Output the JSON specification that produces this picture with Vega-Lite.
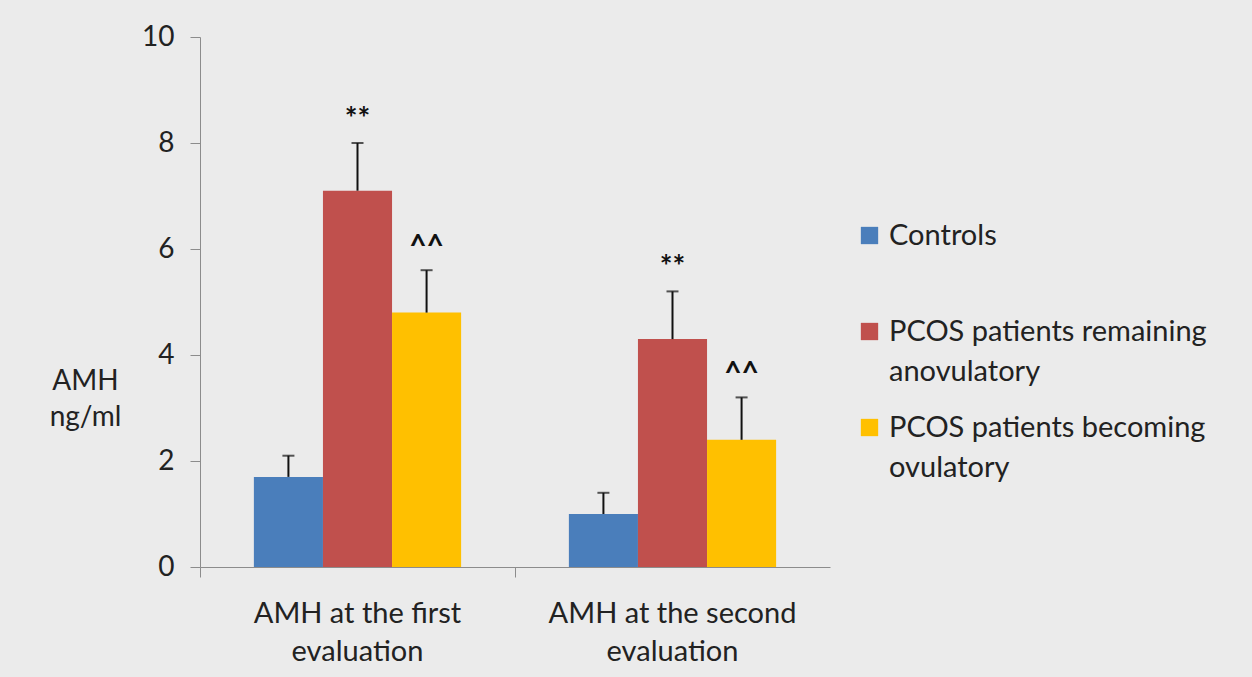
{
  "$schema": "https://vega.github.io/schema/vega-lite/v6.json",
  "width": 630,
  "height": 530,
  "autosize": {"type": "none"},
  "padding": {"left": 200, "top": 37, "right": 422, "bottom": 110},
  "background": "#ebebeb",
  "config": {
    "view": {"stroke": null},
    "font": "Lato",
    "axis": {"grid": false, "domainColor": "#8c8c8c", "tickColor": "#8c8c8c", "labelColor": "#222", "titleColor": "#222", "labelFont": "Lato", "titleFont": "Lato"}
  },
  "data": {
    "values": [
      {"evaluation": "first", "group": "Controls", "mean": 1.7, "upper": 2.1, "sig": ""},
      {"evaluation": "first", "group": "PCOS patients remaining anovulatory", "mean": 7.1, "upper": 8.0, "sig": "**"},
      {"evaluation": "first", "group": "PCOS patients becoming ovulatory", "mean": 4.8, "upper": 5.6, "sig": "^^"},
      {"evaluation": "second", "group": "Controls", "mean": 1.0, "upper": 1.4, "sig": ""},
      {"evaluation": "second", "group": "PCOS patients remaining anovulatory", "mean": 4.3, "upper": 5.2, "sig": "**"},
      {"evaluation": "second", "group": "PCOS patients becoming ovulatory", "mean": 2.4, "upper": 3.2, "sig": "^^"}
    ]
  },
  "encoding": {
    "x": {
      "field": "evaluation", "type": "nominal", "sort": ["first", "second"],
      "scale": {"paddingInner": 0, "paddingOuter": 0},
      "axis": {
        "title": null, "labelAngle": 0, "bandPosition": 0, "tickSize": 10, "labelPadding": 22,
        "labelFontSize": 29, "labelLineHeight": 38, "labelBaseline": "top", "labelLimit": 400,
        "labelExpr": "datum.value == 'first' ? ['AMH at the first', 'evaluation'] : ['AMH at the second', 'evaluation']"
      }
    },
    "xOffset": {
      "field": "group", "type": "nominal",
      "sort": ["Controls", "PCOS patients remaining anovulatory", "PCOS patients becoming ovulatory"],
      "scale": {"paddingInner": 0, "paddingOuter": 0.78}
    }
  },
  "layer": [
    {
      "mark": {"type": "bar"},
      "encoding": {
        "y": {
          "field": "mean", "type": "quantitative",
          "scale": {"domain": [0, 10]},
          "axis": {
            "values": [0, 2, 4, 6, 8, 10], "tickSize": 10, "labelPadding": 16, "labelFontSize": 28,
            "title": ["AMH", "ng/ml"], "titleAngle": 0, "titleFontSize": 28, "titleFontWeight": "normal",
            "titleX": -115, "titleY": 344, "titleAlign": "center", "titleBaseline": "middle", "titleLineHeight": 36
          }
        },
        "color": {
          "field": "group", "type": "nominal",
          "sort": ["Controls", "PCOS patients remaining anovulatory", "PCOS patients becoming ovulatory"],
          "scale": {"range": ["#4a7ebb", "#c0504d", "#ffc000"]},
          "legend": {
            "title": null, "orient": "none", "legendX": 655, "legendY": 184,
            "symbolType": "square", "symbolSize": 300, "symbolStrokeWidth": 0, "symbolOpacity": 1,
            "labelFontSize": 29, "labelColor": "#222", "labelOffset": 5, "rowPadding": 26, "labelLimit": 500,
            "gridAlign": "all",
            "encode": {"labels": {"update": {"lineHeight": {"value": 40}}}},
            "labelExpr": "datum.label == 'Controls' ? 'Controls' : datum.label == 'PCOS patients remaining anovulatory' ? ['PCOS patients remaining', 'anovulatory'] : ['PCOS patients becoming', 'ovulatory']"
          }
        }
      }
    },
    {
      "mark": {"type": "rule", "color": "#111", "strokeWidth": 2},
      "encoding": {
        "y": {"field": "mean", "type": "quantitative"},
        "y2": {"field": "upper"}
      }
    },
    {
      "mark": {"type": "tick", "color": "#111", "thickness": 2, "size": 12},
      "encoding": {
        "y": {"field": "upper", "type": "quantitative"}
      }
    },
    {
      "mark": {"type": "text", "fontSize": 30, "fontWeight": "bold", "color": "#111", "baseline": "bottom", "dy": -8},
      "encoding": {
        "y": {"field": "upper", "type": "quantitative"},
        "text": {"field": "sig"}
      }
    }
  ]
}
